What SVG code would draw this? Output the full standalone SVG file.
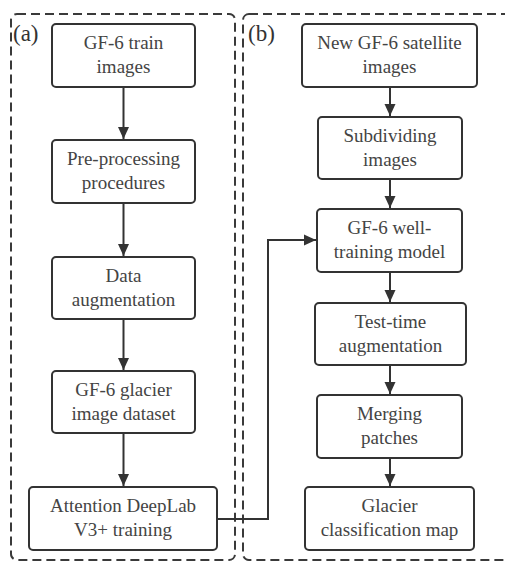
<svg xmlns="http://www.w3.org/2000/svg" width="505" height="562" viewBox="0 0 505 562">
<defs>
<marker id="ah" markerWidth="12" markerHeight="12" viewBox="0 0 12 12" refX="12" refY="6" orient="auto" markerUnits="userSpaceOnUse">
<path d="M0,0.5 L12,6 L0,11.5 Z" fill="#333"/>
</marker>
</defs>
<rect fill="#fff" width="505" height="562"/>
<g fill="none" stroke="#3a3a3a" stroke-width="2" stroke-dasharray="9 5">
<g id="panel-a"><rect x="11" y="14" width="224" height="546" rx="6"/></g>
<g id="panel-b"><rect x="243" y="14" width="290" height="546" rx="6"/></g>
</g>
<text x="13" y="41" font-family="Liberation Serif" font-size="23" fill="#333">(a)</text>
<text x="248" y="41" font-family="Liberation Serif" font-size="23" fill="#333">(b)</text>
<g id="connectors" fill="none" stroke="#333" stroke-width="2" marker-end="url(#ah)">
<line x1="123.5" y1="87" x2="123.5" y2="139"/>
<line x1="123.5" y1="203" x2="123.5" y2="256"/>
<line x1="123.5" y1="319" x2="123.5" y2="370"/>
<line x1="123.5" y1="433" x2="123.5" y2="486"/>
<line x1="390" y1="87" x2="390" y2="116"/>
<line x1="390" y1="179" x2="390" y2="208"/>
<line x1="390" y1="272" x2="390" y2="302"/>
<line x1="390" y1="365" x2="390" y2="394"/>
<line x1="390" y1="458" x2="390" y2="486"/>
<polyline points="217,519 268,519 268,240 316,240"/>
</g>
<g id="n1"><rect fill="#fff" stroke="#333" stroke-width="2" x="52" y="24" width="143" height="63" rx="4"/><text font-family="Liberation Serif" font-size="19" text-anchor="middle" fill="#444" x="123.5" y="49">GF-6 train</text><text font-family="Liberation Serif" font-size="19" text-anchor="middle" fill="#444" x="123.5" y="73">images</text></g>
<g id="n2"><rect fill="#fff" stroke="#333" stroke-width="2" x="52" y="140" width="143" height="63" rx="4"/><text font-family="Liberation Serif" font-size="19" text-anchor="middle" fill="#444" x="123.5" y="165">Pre-processing</text><text font-family="Liberation Serif" font-size="19" text-anchor="middle" fill="#444" x="123.5" y="189">procedures</text></g>
<g id="n3"><rect fill="#fff" stroke="#333" stroke-width="2" x="52" y="257" width="143" height="62" rx="4"/><text font-family="Liberation Serif" font-size="19" text-anchor="middle" fill="#444" x="123.5" y="282">Data</text><text font-family="Liberation Serif" font-size="19" text-anchor="middle" fill="#444" x="123.5" y="306">augmentation</text></g>
<g id="n4"><rect fill="#fff" stroke="#333" stroke-width="2" x="52" y="371" width="143" height="62" rx="4"/><text font-family="Liberation Serif" font-size="19" text-anchor="middle" fill="#444" x="123.5" y="396">GF-6 glacier</text><text font-family="Liberation Serif" font-size="19" text-anchor="middle" fill="#444" x="123.5" y="420">image dataset</text></g>
<g id="n5"><rect fill="#fff" stroke="#333" stroke-width="2" x="29" y="487" width="188" height="63" rx="4"/><text font-family="Liberation Serif" font-size="19" text-anchor="middle" fill="#444" x="123" y="512">Attention DeepLab</text><text font-family="Liberation Serif" font-size="19" text-anchor="middle" fill="#444" x="123" y="536">V3+ training</text></g>
<g id="m1"><rect fill="#fff" stroke="#333" stroke-width="2" x="302" y="24" width="175" height="63" rx="4"/><text font-family="Liberation Serif" font-size="19" text-anchor="middle" fill="#444" x="389.5" y="49">New GF-6 satellite</text><text font-family="Liberation Serif" font-size="19" text-anchor="middle" fill="#444" x="389.5" y="73">images</text></g>
<g id="m2"><rect fill="#fff" stroke="#333" stroke-width="2" x="318" y="117" width="144" height="62" rx="4"/><text font-family="Liberation Serif" font-size="19" text-anchor="middle" fill="#444" x="390" y="142">Subdividing</text><text font-family="Liberation Serif" font-size="19" text-anchor="middle" fill="#444" x="390" y="166">images</text></g>
<g id="m3"><rect fill="#fff" stroke="#333" stroke-width="2" x="317" y="209" width="145" height="63" rx="4"/><text font-family="Liberation Serif" font-size="19" text-anchor="middle" fill="#444" x="389.5" y="234">GF-6 well-</text><text font-family="Liberation Serif" font-size="19" text-anchor="middle" fill="#444" x="389.5" y="258">training model</text></g>
<g id="m4"><rect fill="#fff" stroke="#333" stroke-width="2" x="315" y="303" width="151" height="62" rx="4"/><text font-family="Liberation Serif" font-size="19" text-anchor="middle" fill="#444" x="390.5" y="328">Test-time</text><text font-family="Liberation Serif" font-size="19" text-anchor="middle" fill="#444" x="390.5" y="352">augmentation</text></g>
<g id="m5"><rect fill="#fff" stroke="#333" stroke-width="2" x="317" y="395" width="145" height="63" rx="4"/><text font-family="Liberation Serif" font-size="19" text-anchor="middle" fill="#444" x="389.5" y="420">Merging</text><text font-family="Liberation Serif" font-size="19" text-anchor="middle" fill="#444" x="389.5" y="444">patches</text></g>
<g id="m6"><rect fill="#fff" stroke="#333" stroke-width="2" x="305" y="487" width="169" height="63" rx="4"/><text font-family="Liberation Serif" font-size="19" text-anchor="middle" fill="#444" x="389.5" y="512">Glacier</text><text font-family="Liberation Serif" font-size="19" text-anchor="middle" fill="#444" x="389.5" y="536">classification map</text></g>
</svg>
